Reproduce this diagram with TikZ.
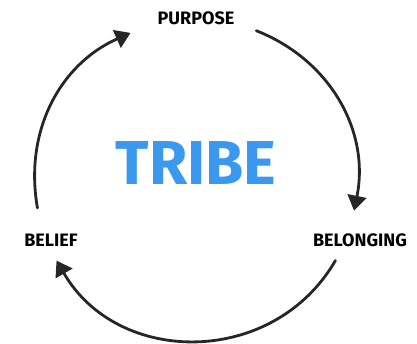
\documentclass[tikz,border=0pt]{standalone}
\usepackage{fontspec}
\setmainfont{Fira Sans}
\usetikzlibrary{arrows.meta}
\definecolor{tribeblue}{RGB}{58,152,238}

\begin{document}
\begin{tikzpicture}
  [x=1pt,y=1pt,every node/.style={font=\bfseries\fontsize{18}{18}\selectfont,inner sep=0pt},
   cycle/.style={line width=2.8pt,black!85,line cap=round,-{Triangle[length=15pt,width=19pt]}}]
    \useasboundingbox (-196,-164) rectangle (221,180);

    \node (purpose)   at (0,162)    {PURPOSE};
    \node (belief)    at (-145,-60) {BELIEF};
    \node (belonging) at (164,-60)  {BELONGING};
    \node (tribe) [text=tribeblue,font=\bfseries\fontsize{62}{62}\selectfont] at (0,17) {TRIBE};

    \coordinate (s1) at (190:161);
    \coordinate (e1) at (114:161);
    \coordinate (s2) at (68:161);
    \coordinate (e2) at (-11:161);
    \coordinate (s3) at (-30:161);
    \coordinate (e3) at (-150:161);

    \foreach \from/\to/\bend/\loose in {s1/e1/38/1,s2/e2/40/1,s3/e3/60/1.13}
      \draw[cycle] (\from) to[bend left=\bend,looseness=\loose] (\to);
  \end{tikzpicture}
\end{document}
